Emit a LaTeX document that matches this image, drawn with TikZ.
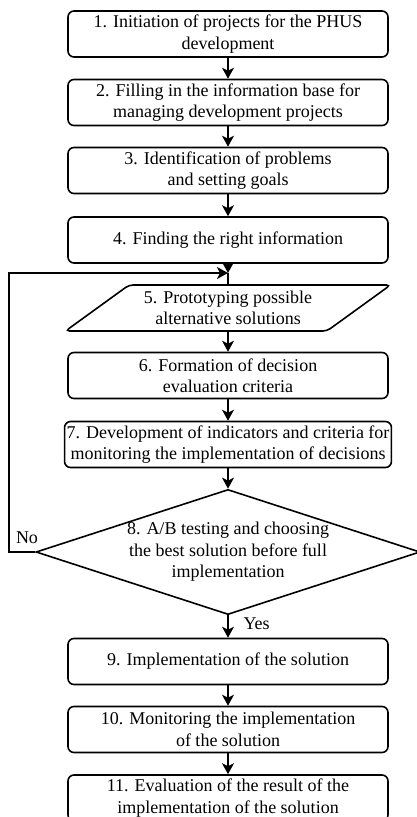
\documentclass[tikz,border=0pt]{standalone}
\usepackage{fontspec}
\setmainfont{Liberation Serif}
\usetikzlibrary{shapes.geometric,arrows.meta}

\tikzset{
  txt/.style={font=\fontsize{18}{21.5}\selectfont},
  blok/.style={txt, draw, line width=1.6pt, rounded corners=6pt,
    minimum width=320pt, minimum height=46pt, inner sep=2pt, align=center},
  proto/.style={blok, trapezium, trapezium left angle=31,
    trapezium right angle=149, trapezium stretches body,
    minimum width=325pt, rounded corners=4pt},
  decision/.style={txt, draw, line width=1.6pt, diamond, aspect=3.07,
    minimum width=384pt, minimum height=125pt, inner sep=0pt, align=center},
  arr/.style={line width=1.6pt, -{Stealth[length=11pt,width=12pt,inset=3pt]}},
  ln/.style={line width=1.6pt}
}

\begin{document}
\begin{tikzpicture}[x=1pt,y=-1pt]
\useasboundingbox (0,0) rectangle (417,817);

\node[blok] (b1) at (228,34) {1. Initiation of projects for the PHUS\\development};
\node[blok] (b2) at (228,102.5) {2. Filling in the information base for\\managing development projects};
\node[blok] (b3) at (228,170.5) {3. Identification of problems\\and setting goals};
\node[blok] (b4) at (228,240) {4. Finding the right information};
\coordinate (j) at (228,273);
\node[proto] (b5) at (228,308) {5. Prototyping possible\\alternative solutions};
\node[blok] (b6) at (228,375.5) {6. Formation of decision\\evaluation criteria};
\node[blok] (b7) at (228,444.5) {7. Development of indicators and criteria for\\monitoring the implementation of decisions};
\node[decision] (b8) at (228,552) {8. A/B testing and choosing\\the best solution before full\\implementation};
\node[blok] (b9) at (228,661.5) {9. Implementation of the solution};
\node[blok] (b10) at (228,729.5) {10. Monitoring the implementation\\of the solution};
\node[blok] (b11) at (228,798) {11. Evaluation of the result of the\\implementation of the solution};

\node[txt] (no) at (27,538) {No};
\node[txt, anchor=west] (yes) at (240,624) {Yes};

\draw[arr] (b1) -- (b2);
\draw[arr] (b2) -- (b3);
\draw[arr] (b3) -- (b4);
\draw[arr] (b4) -- (j);
\draw[ln] (j) -- (b5);
\draw[arr] (b5) -- (b6);
\draw[arr] (b6) -- (b7);
\draw[arr] (b7) -- (b8);
\draw[arr] (b8) -- (b9);
\draw[arr] (b9) -- (b10);
\draw[arr] (b10) -- (b11);
% loop back
\draw[arr] (b8.west) -- ++(-26,0) |- (j);
\end{tikzpicture}
\end{document}
